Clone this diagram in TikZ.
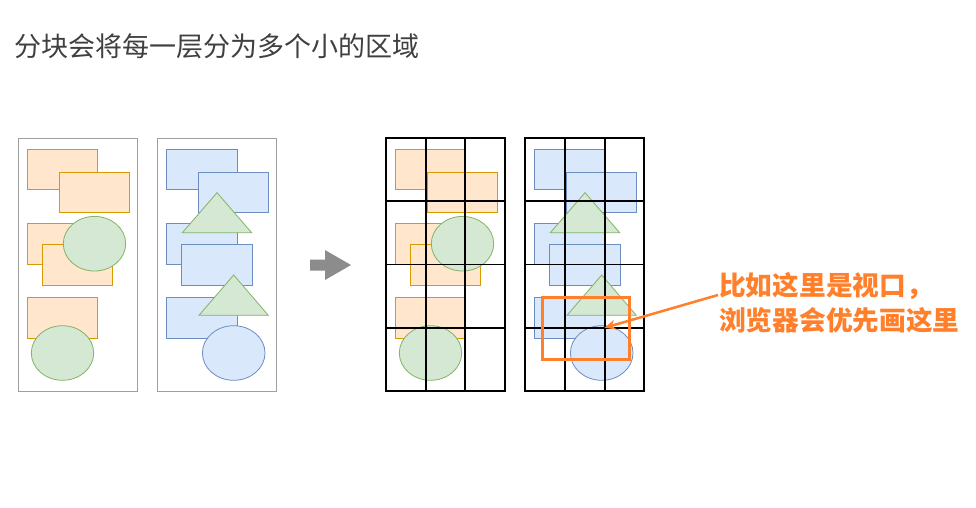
\documentclass[tikz,border=0pt]{standalone}
\usepackage{fontspec}
\usepackage{tikz}
\usetikzlibrary{arrows.meta}
\newfontfamily\cjk{Noto Sans CJK SC}

\definecolor{orfill}{HTML}{FFE6CC}
\definecolor{orline}{HTML}{D79B00}
\definecolor{grfill}{HTML}{D5E8D4}
\definecolor{grline}{HTML}{82B366}
\definecolor{blfill}{HTML}{DAE8FC}
\definecolor{blline}{HTML}{6C8EBF}
\definecolor{hl}{HTML}{FF7F2A}
\definecolor{titlegray}{HTML}{404040}

\tikzset{
	orbox/.style={draw=orline, fill=orfill, line width=0.8pt},
	grbox/.style={draw=grline, fill=grfill, line width=0.8pt},
	blbox/.style={draw=blline, fill=blfill, line width=0.8pt},
	panel/.style={draw=gray!75, line width=0.8pt},
	tiles/.style={draw=black, line width=1.8pt},
	viewport/.style={draw=hl, line width=3pt},
	hint/.style={draw=hl, line width=2.5pt, -{Stealth[length=11pt,width=10pt]}},
	title/.style={text=titlegray, font=\cjk\fontsize{27}{32}\selectfont, inner sep=0pt},
	note/.style={text=hl, font=\cjk\bfseries\fontsize{26.7}{34.5}\selectfont, align=left, inner sep=0pt},
}

\newcommand{\layerone}{
	\draw[orbox] (9.3,11.3) rectangle (79.7,51.7);
	\draw[orbox] (41.3,34.3) rectangle (111.3,74.7);
	\draw[orbox] (9.3,85.3) rectangle (79.7,126);
	\draw[orbox] (24.3,106.3) rectangle (94.7,147);
	\draw[grbox] (76.5,105.7) ellipse [x radius=31.2pt, y radius=27.3pt];
	\draw[orbox] (9.3,159.3) rectangle (79.7,200.3);
	\draw[grbox] (44.5,215) ellipse [x radius=31.2pt, y radius=27.3pt];
}
\newcommand{\layertwo}{
	\draw[blbox] (9.4,11.3) rectangle (79.7,51.7);
	\draw[blbox] (41.4,34.3) rectangle (111.4,74.7);
	\draw[blbox] (9.4,85.3) rectangle (79.7,126);
	\draw[grbox] (59.7,54.7) -- (94.4,94.7) -- (25,94.7) -- cycle;
	\draw[blbox] (24.4,106.3) rectangle (94.7,147);
	\draw[blbox] (9.4,159.3) rectangle (79.7,200.3);
	\draw[grbox] (76.4,137) -- (111,177.3) -- (41.7,177.3) -- cycle;
	\draw[blbox] (76.4,215) ellipse [x radius=31.3pt, y radius=27.3pt];
}
\newcommand{\tilegrid}{
	\foreach \x in {0,39.67,79.33,119} \draw[tiles] (\x,0) -- (\x,253);
	\foreach \y in {0,63.25,126.5,189.75,253} \draw[tiles] (-0.9,\y) -- (119.9,\y);
}

\begin{document}
\begin{tikzpicture}[x=1pt,y=-1pt]
	\useasboundingbox (0,0) rectangle (976,507);
	\node[title, anchor=west] (head) at (14.5,46.5) {分块会将每一层分为多个小的区域};

	\begin{scope}[shift={(18,138)}]
		\draw[panel] (0,0) rectangle (119,253);
		\layerone
	\end{scope}
	\begin{scope}[shift={(157.3,138)}]
		\draw[panel] (0,0) rectangle (119,253);
		\layertwo
	\end{scope}

	\fill[gray!90] (310,259.5) -- (325,259.5) -- (325,250) -- (351,265) -- (325,280) -- (325,270.5) -- (310,270.5) -- cycle;

	\begin{scope}[shift={(386,138)}]
		\layerone
		\tilegrid
	\end{scope}
	\begin{scope}[shift={(525.3,138)}]
		\layertwo
		\tilegrid
		\coordinate (tip) at (79.33,189.75);
	\end{scope}

	\draw[viewport] (542.3,297.3) rectangle (629.3,359);
	\node[note, anchor=west] (note) at (719,303) {比如这里是视口，\\浏览器会优先画这里};
	\draw[hint] ([yshift=8pt,xshift=-1pt]note.west) -- (tip);
\end{tikzpicture}
\end{document}
